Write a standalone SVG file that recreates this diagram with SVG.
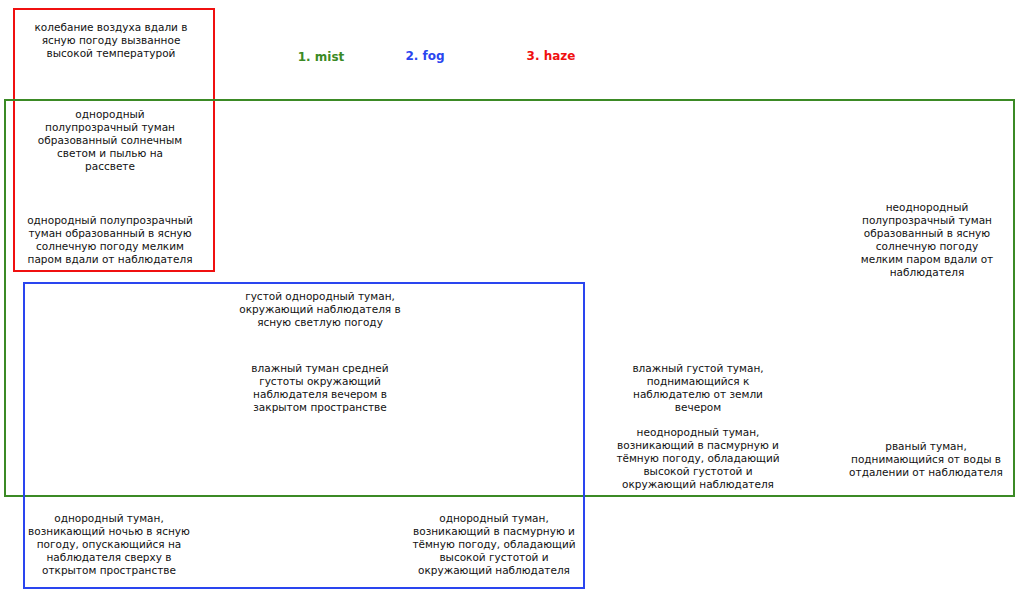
<svg xmlns="http://www.w3.org/2000/svg" width="1020" height="596" viewBox="0 0 1020 596">
<style>
.t{font-family:"DejaVu Sans","Noto Sans",sans-serif;font-size:10.5px;fill:#111;text-anchor:middle}
.l{font-family:"DejaVu Sans","Noto Sans",sans-serif;font-size:12px;font-weight:bold;text-anchor:middle}
.box{fill:none;stroke-width:2}
</style>
<rect width="1020" height="596" fill="#fff"/>
<g id="sets">
<rect id="haze" class="box" x="14" y="9" width="200" height="262" stroke="#f01010"/>
<rect id="mist" class="box" x="5" y="100" width="1009" height="396" stroke="#3b8a25"/>
<rect id="fog" class="box" x="24" y="283" width="560" height="305" stroke="#2a45ef"/>
</g>
<g id="legend">
<text class="l" x="321" y="61" fill="#3b8a25">1. mist</text>
<text class="l" x="425" y="60" fill="#2a45ef">2. fog</text>
<text class="l" x="551" y="60" fill="#f01010">3. haze</text>
</g>
<g id="n1"><text class="t" y="31"><tspan x="111">колебание воздуха вдали в</tspan><tspan x="111" dy="13">ясную погоду вызванное</tspan><tspan x="111" dy="13">высокой температурой</tspan></text></g>
<g id="n2"><text class="t" y="118"><tspan x="110">однородный</tspan><tspan x="110" dy="13">полупрозрачный туман</tspan><tspan x="110" dy="13">образованный солнечным</tspan><tspan x="110" dy="13">светом и пылью на</tspan><tspan x="110" dy="13">рассвете</tspan></text></g>
<g id="n3"><text class="t" y="224"><tspan x="110">однородный полупрозрачный</tspan><tspan x="110" dy="13">туман образованный в ясную</tspan><tspan x="110" dy="13">солнечную погоду мелким</tspan><tspan x="110" dy="13">паром вдали от наблюдателя</tspan></text></g>
<g id="n4"><text class="t" y="211"><tspan x="927">неоднородный</tspan><tspan x="927" dy="13">полупрозрачный туман</tspan><tspan x="927" dy="13">образованный в ясную</tspan><tspan x="927" dy="13">солнечную погоду</tspan><tspan x="927" dy="13">мелким паром вдали от</tspan><tspan x="927" dy="13">наблюдателя</tspan></text></g>
<g id="n5"><text class="t" y="300"><tspan x="320">густой однородный туман,</tspan><tspan x="320" dy="13">окружающий наблюдателя в</tspan><tspan x="320" dy="13">ясную светлую погоду</tspan></text></g>
<g id="n6"><text class="t" y="372"><tspan x="320">влажный туман средней</tspan><tspan x="320" dy="13">густоты окружающий</tspan><tspan x="320" dy="13">наблюдателя вечером в</tspan><tspan x="320" dy="13">закрытом пространстве</tspan></text></g>
<g id="n7"><text class="t" y="372"><tspan x="698">влажный густой туман,</tspan><tspan x="698" dy="13">поднимающийся к</tspan><tspan x="698" dy="13">наблюдателю от земли</tspan><tspan x="698" dy="13">вечером</tspan></text></g>
<g id="n8"><text class="t" y="436"><tspan x="698">неоднородный туман,</tspan><tspan x="698" dy="13">возникающий в пасмурную и</tspan><tspan x="698" dy="13">тёмную погоду, обладающий</tspan><tspan x="698" dy="13">высокой густотой и</tspan><tspan x="698" dy="13">окружающий наблюдателя</tspan></text></g>
<g id="n9"><text class="t" y="450"><tspan x="926">рваный туман,</tspan><tspan x="926" dy="13">поднимающийся от воды в</tspan><tspan x="926" dy="13">отдалении от наблюдателя</tspan></text></g>
<g id="n10"><text class="t" y="522"><tspan x="109">однородный туман,</tspan><tspan x="109" dy="13">возникающий ночью в ясную</tspan><tspan x="109" dy="13">погоду, опускающийся на</tspan><tspan x="109" dy="13">наблюдателя сверху в</tspan><tspan x="109" dy="13">открытом пространстве</tspan></text></g>
<g id="n11"><text class="t" y="522"><tspan x="494">однородный туман,</tspan><tspan x="494" dy="13">возникающий в пасмурную и</tspan><tspan x="494" dy="13">тёмную погоду, обладающий</tspan><tspan x="494" dy="13">высокой густотой и</tspan><tspan x="494" dy="13">окружающий наблюдателя</tspan></text></g>
<g id="connectors"></g>
</svg>
